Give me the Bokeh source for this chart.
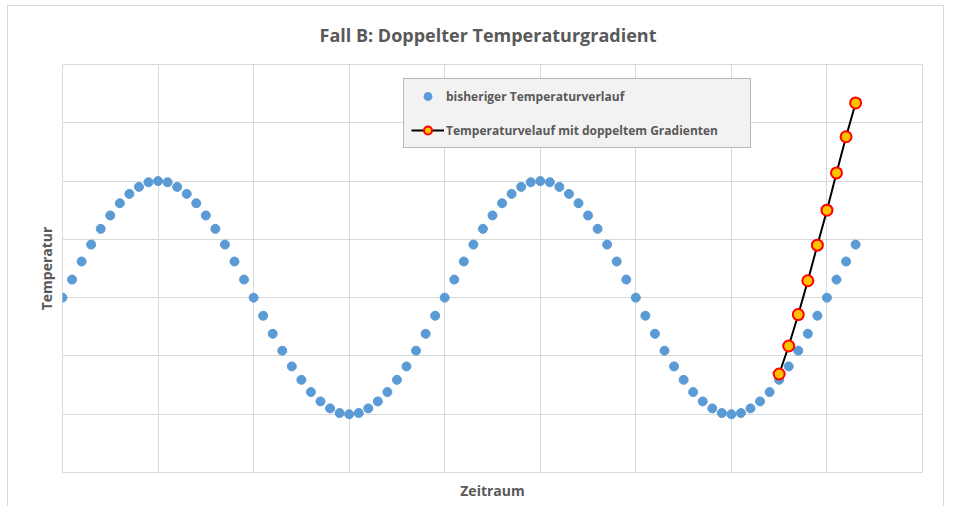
from bokeh.plotting import figure
from bokeh.models import FixedTicker, Legend, LegendItem, Range1d, CustomJSTickFormatter
from bokeh.embed import file_html
from bokeh.resources import INLINE

# --- data -------------------------------------------------------------
zeit = list(range(84))
temp = [0.00, 0.31, 0.62, 0.91, 1.18, 1.41, 1.62, 1.78, 1.90, 1.98,
        2.00, 1.98, 1.90, 1.78, 1.62, 1.41, 1.18, 0.91, 0.62, 0.31,
        0.00, -0.31, -0.62, -0.91, -1.18, -1.41, -1.62, -1.78, -1.90, -1.98,
        -2.00, -1.98, -1.90, -1.78, -1.62, -1.41, -1.18, -0.91, -0.62, -0.31,
        0.00, 0.31, 0.62, 0.91, 1.18, 1.41, 1.62, 1.78, 1.90, 1.98,
        2.00, 1.98, 1.90, 1.78, 1.62, 1.41, 1.18, 0.91, 0.62, 0.31,
        0.00, -0.31, -0.62, -0.91, -1.18, -1.41, -1.62, -1.78, -1.90, -1.98,
        -2.00, -1.98, -1.90, -1.78, -1.62, -1.41, -1.18, -0.91, -0.62, -0.31,
        0.00, 0.31, 0.62, 0.91]
zeit_neu = list(range(75, 84))
temp_neu = [-1.31, -0.83, -0.29, 0.29, 0.90, 1.50, 2.14, 2.76, 3.34]
x_ticks = list(range(0, 91, 10))
y_ticks = list(range(-3, 5))

FONT = "Open Sans"
GRAY = "#595959"

p = figure(width=937, height=501, output_backend="svg", toolbar_location=None,
           x_range=Range1d(0, 90), y_range=Range1d(-3, 4),
           min_border_left=54, min_border_right=23,
           min_border_top=58, min_border_bottom=35)
p.margin = (5, 0, 0, 7)
p.styles = {"border-top": "1px solid #d9d9d9",
            "border-left": "1px solid #d9d9d9",
            "border-right": "1px solid #d9d9d9"}

p.title.text = "Fall B: Doppelter Temperaturgradient"
p.title.align = "left"
p.title.offset = 257
p.title.vertical_align = "top"
p.title.text_font = FONT
p.title.text_font_size = "18px"
p.title.text_font_style = "bold"
p.title.text_color = GRAY
p.title.standoff = 32

empty = CustomJSTickFormatter(code="return ''")
for ax in (p.xaxis[0], p.yaxis[0]):
    ax.formatter = empty
    ax.major_tick_line_color = None
    ax.minor_tick_line_color = None
    ax.axis_line_color = None
    ax.major_tick_out = 0
    ax.major_tick_in = 0
    ax.major_label_standoff = 0
    ax.axis_label_text_font = FONT
    ax.axis_label_text_font_size = "14px"
    ax.axis_label_text_font_style = "bold"
    ax.axis_label_text_color = GRAY
p.xaxis.axis_label = "Zeitraum"
p.yaxis.axis_label = "Temperatur"
p.xaxis.axis_label_standoff = 8
p.yaxis.axis_label_standoff = 7
p.xaxis.ticker = FixedTicker(ticks=x_ticks)
p.yaxis.ticker = FixedTicker(ticks=y_ticks)
p.grid.grid_line_color = "#d9d9d9"
p.grid.grid_line_width = 1
p.outline_line_color = "#d9d9d9"

blue = p.scatter(zeit, temp, size=9, fill_color="#5b9bd5", line_color="#5b9bd5")
line = p.line(zeit_neu, temp_neu, line_color="black", line_width=2)
red = p.scatter(zeit_neu, temp_neu, size=11, fill_color="#ffc000",
                line_color="#ff0000", line_width=2)

legend = Legend(items=[
    LegendItem(label="bisheriger Temperaturverlauf", renderers=[blue]),
    LegendItem(label="Temperaturvelauf mit doppeltem Gradienten", renderers=[line, red]),
], location=(341, 324))
legend.background_fill_color = "#f2f2f2"
legend.background_fill_alpha = 1
legend.border_line_color = "#808080"
legend.border_line_width = 1
legend.label_text_font = FONT
legend.label_text_font_style = "bold"
legend.label_text_font_size = "12px"
legend.label_text_color = GRAY
legend.glyph_width = 33
legend.glyph_height = 20
legend.label_height = 20
legend.label_width = 297
legend.spacing = 14
legend.padding = 7
legend.margin = 0
legend.label_standoff = 2
p.add_layout(legend)

open("out.html", "w").write(file_html(p, INLINE))
